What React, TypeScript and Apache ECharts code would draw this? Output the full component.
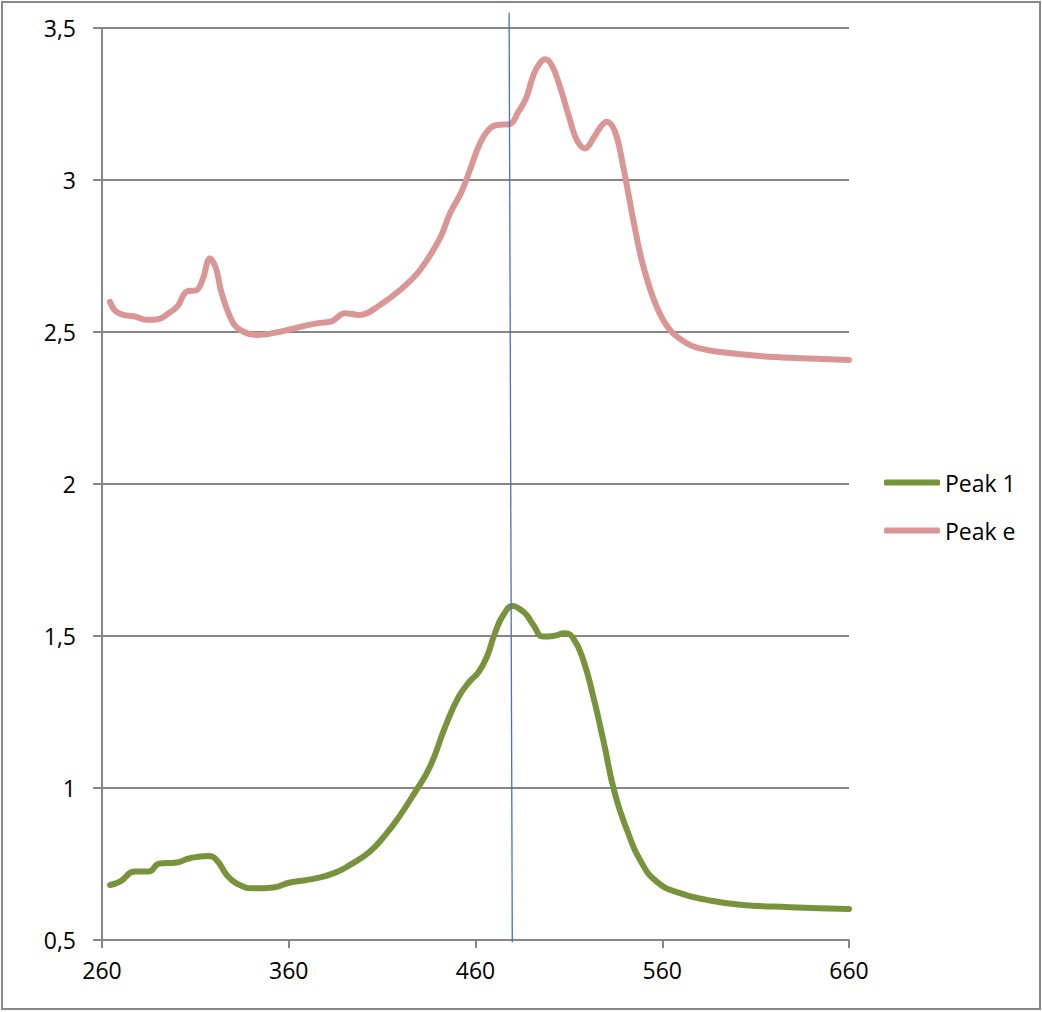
import React, { useEffect, useRef } from "react";
import * as echarts from "echarts";

const peakEX = [264.3, 267, 271.4, 277, 283.9, 290, 295.5, 300.5, 305.3, 310.7, 314, 317.8, 321, 324.1, 330.3, 336, 342.8, 355.3, 366, 376.7, 383, 390, 398, 408.9, 419.6, 430.3, 441, 446.3, 452.6, 457, 462.4, 467, 471.3, 478.5, 483, 484.7, 487.4, 491, 494, 497.2, 500.8, 505.2, 510.6, 514.2, 518.6, 523.1, 527, 530.2, 534.7, 539.1, 544.5, 549.9, 557, 564.1, 573.1, 580.2, 591, 612.3, 633.8, 660];
const peakEY = [2.599, 2.57, 2.556, 2.552, 2.54, 2.542, 2.561, 2.585, 2.633, 2.638, 2.675, 2.742, 2.71, 2.627, 2.529, 2.5, 2.49, 2.501, 2.517, 2.53, 2.535, 2.562, 2.556, 2.589, 2.638, 2.704, 2.809, 2.89, 2.962, 3.033, 3.121, 3.165, 3.181, 3.184, 3.225, 3.241, 3.274, 3.345, 3.38, 3.397, 3.378, 3.307, 3.197, 3.132, 3.104, 3.137, 3.175, 3.192, 3.159, 3.044, 2.868, 2.715, 2.583, 2.507, 2.463, 2.446, 2.434, 2.421, 2.414, 2.408];

const peak1X = [264.3, 269.6, 277.7, 284.8, 291, 299.1, 307.1, 316.9, 321.4, 326.8, 332.1, 341, 351.7, 360.7, 373.1, 383.9, 392.8, 403.5, 412.4, 419.6, 427, 435.6, 443.7, 451, 457.1, 461.5, 466, 470.4, 474.9, 480.2, 483.8, 487.4, 491, 496.3, 501.7, 507.9, 512.4, 517.7, 523.1, 528.4, 534.7, 541.8, 548.1, 557, 569.5, 583.8, 601.6, 628.4, 660];
const peak1Y = [0.681, 0.692, 0.725, 0.725, 0.752, 0.754, 0.769, 0.776, 0.763, 0.714, 0.686, 0.67, 0.673, 0.689, 0.701, 0.719, 0.747, 0.791, 0.851, 0.91, 0.98, 1.07, 1.2, 1.3, 1.352, 1.38, 1.43, 1.509, 1.569, 1.599, 1.588, 1.569, 1.536, 1.498, 1.5, 1.509, 1.492, 1.421, 1.3, 1.158, 0.98, 0.851, 0.763, 0.692, 0.654, 0.632, 0.616, 0.608, 0.602];

const seriesNames = ["Peak 1", "Peak e"];
const xTicks = { min: 260, max: 660, interval: 100 };
const yTicks = { min: 0.5, max: 3.5, interval: 0.5 };
// vertical marker line (slightly tilted), in data units
const markerTop = { x: 478.0, y: 3.55 };
const markerBottom = { x: 479.7, y: 0.493 };

const FONT = "Open Sans";
const FS = 23;
const GREEN = "#77933C";
const PINK = "#D99694";

export default function App() {
  const ref = useRef<HTMLDivElement>(null);
  useEffect(() => {
    if (!ref.current) return;
    const chart = echarts.init(ref.current, null, { renderer: "svg" });
    const zip = (xs: number[], ys: number[]) => xs.map((x, i) => [x, ys[i]]);
    chart.setOption({
      animation: false,
      backgroundColor: "#ffffff",
      textStyle: { fontFamily: FONT },
      grid: { left: 102, top: 28, width: 747, height: 912, containLabel: false },
      legend: {
        orient: "vertical",
        left: 879,
        top: 464,
        itemWidth: 56,
        itemHeight: 6,
        itemGap: 21,
        icon: "roundRect",
        data: seriesNames,
        textStyle: { fontFamily: FONT, fontSize: FS, lineHeight: 27, color: "#000" },
      },
      xAxis: {
        type: "value",
        min: xTicks.min,
        max: xTicks.max,
        interval: xTicks.interval,
        axisLine: { lineStyle: { color: "#868686", width: 2 } },
        axisTick: { show: true, length: 8, lineStyle: { color: "#868686", width: 2 } },
        splitLine: { show: false },
        axisLabel: { fontFamily: FONT, fontSize: FS, color: "#000", margin: 18 },
      },
      yAxis: {
        type: "value",
        min: yTicks.min,
        max: yTicks.max,
        interval: yTicks.interval,
        axisLine: { show: true, lineStyle: { color: "#868686", width: 2 } },
        axisTick: { show: true, length: 9, lineStyle: { color: "#868686", width: 2 } },
        splitLine: { show: true, lineStyle: { color: "#868686", width: 2 } },
        axisLabel: {
          fontFamily: FONT,
          fontSize: FS,
          color: "#000",
          margin: 26,
          formatter: (v: number) => String(v).replace(".", ","),
        },
      },
      series: [
        {
          name: seriesNames[0],
          type: "line",
          data: zip(peak1X, peak1Y),
          showSymbol: false,
          symbol: "none",
          smooth: 0.5,
          lineStyle: { color: GREEN, width: 6, cap: "round", join: "round" },
          itemStyle: { color: GREEN },
        },
        {
          name: seriesNames[1],
          type: "line",
          data: zip(peakEX, peakEY),
          showSymbol: false,
          symbol: "none",
          smooth: 0.4,
          lineStyle: { color: PINK, width: 6, cap: "round", join: "round" },
          itemStyle: { color: PINK },
        },
      ],
    });
    const top = chart.convertToPixel({ xAxisIndex: 0, yAxisIndex: 0 }, [markerTop.x, markerTop.y]) as number[];
    const bot = chart.convertToPixel({ xAxisIndex: 0, yAxisIndex: 0 }, [markerBottom.x, markerBottom.y]) as number[];
    chart.setOption({
      graphic: [
        {
          type: "rect",
          shape: { x: 2, y: 2, width: 1038, height: 1007 },
          style: { fill: "none", stroke: "#898989", lineWidth: 2 },
          silent: true,
        },
        {
          type: "line",
          shape: { x1: top[0], y1: top[1], x2: bot[0], y2: bot[1] },
          style: { stroke: "#4472C4", lineWidth: 1.3 },
          z: 10,
          silent: true,
        },
      ],
    });
    return () => chart.dispose();
  }, []);
  return (
    <div
      ref={ref}
      style={{ position: "absolute", left: 0, top: 0, width: 1042, height: 1012 }}
    />
  );
}
